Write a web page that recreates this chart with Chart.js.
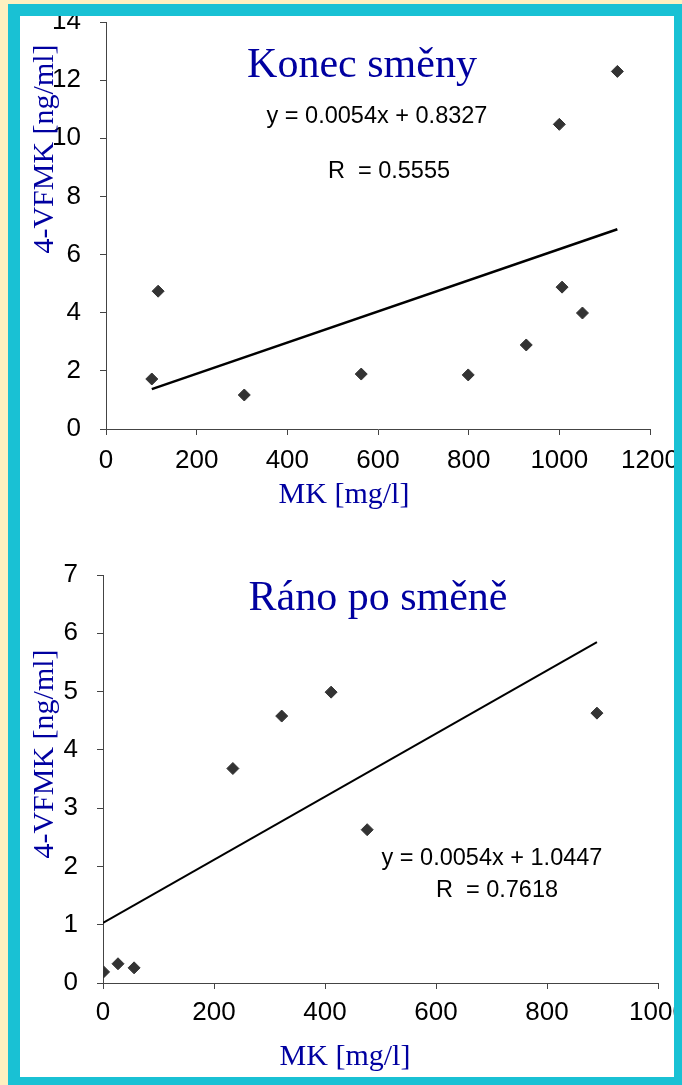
<!DOCTYPE html>
<html>
<head>
<meta charset="utf-8">
<script src="https://cdn.jsdelivr.net/npm/chart.js@4/dist/chart.umd.min.js"></script>
<style>
    html, body { margin: 0; padding: 0; width: 682px; height: 1085px; overflow: hidden; background: #fdf0c0; }
    #frame {
        position: absolute; left: 8px; top: 4px;
        width: 654px; height: 1061px;
        border: 12px solid #19c1d4;
        background: #fff; overflow: hidden;
    }
    canvas { position: absolute; left: 0; }
    #topChart { top: -30px; }
    #bottomChart { top: 530px; }
</style>
</head>
<body>
<div id="frame">
    <canvas id="topChart" width="700" height="560"></canvas>
    <canvas id="bottomChart" width="700" height="560"></canvas>
</div>
<script>
// Konec směny (end of shift)
const topMK = [101, 115, 305, 563, 799, 927, 1000, 1006, 1051, 1128];
const topVFMK = [1.72, 4.74, 1.17, 1.89, 1.86, 2.89, 10.48, 4.88, 3.99, 12.3];
const topTrendMK = [101, 1128];
const topTrendVFMK = [1.37, 6.87];
const topXTicks = [0, 200, 400, 600, 800, 1000, 1200];
const topYTicks = [0, 2, 4, 6, 8, 10, 12, 14];

// Ráno po směně (morning after shift)
const bottomMK = [1, 27, 56, 234, 322, 411, 476, 890];
const bottomVFMK = [0.19, 0.33, 0.26, 3.68, 4.58, 4.99, 2.63, 4.63];
const bottomTrendMK = [0, 890];
const bottomTrendVFMK = [1.03, 5.85];
const bottomXTicks = [0, 200, 400, 600, 800, 1000];
const bottomYTicks = [0, 1, 2, 3, 4, 5, 6, 7];

const SANS = "'Liberation Sans', Arial, sans-serif";
const SERIF = "'Liberation Serif', 'Times New Roman', serif";
const BLUE = '#0000a0';
const AXIS = '#444';

// draws titles, equations and axis titles at fixed spots
const textLayer = {
    id: 'textLayer',
    afterDraw(chart, args, opts) {
        const ctx = chart.ctx;
        (opts.items || []).forEach(it => {
            ctx.save();
            ctx.font = it.font;
            ctx.fillStyle = it.color || '#000';
            ctx.textAlign = 'center';
            ctx.textBaseline = 'alphabetic';
            ctx.translate(it.x, it.y);
            if (it.rotate) ctx.rotate(it.rotate);
            ctx.fillText(it.text, 0, 0);
            ctx.restore();
        });
    }
};

function toPoints(xs, ys) {
    return xs.map((x, i) => ({ x: x, y: ys[i] }));
}

function makeChart(id, cfg) {
    const tickFont = { family: SANS, size: 26 };
    return new Chart(document.getElementById(id), {
        type: 'scatter',
        data: {
            datasets: [{
                data: toPoints(cfg.mk, cfg.vfmk),
                pointStyle: 'rectRot',
                pointRadius: 6,
                pointHoverRadius: 6,
                backgroundColor: '#333',
                borderColor: '#333',
                borderWidth: 1
            }, {
                data: toPoints(cfg.trendMK, cfg.trendVFMK),
                showLine: true,
                pointRadius: 0,
                borderColor: '#000',
                borderWidth: cfg.lineWidth
            }]
        },
        options: {
            responsive: false,
            animation: false,
            layout: { padding: cfg.padding },
            plugins: {
                legend: { display: false },
                tooltip: { enabled: false },
                textLayer: { items: cfg.texts }
            },
            scales: {
                x: {
                    min: cfg.xTicks[0], max: cfg.xTicks[cfg.xTicks.length - 1],
                    afterBuildTicks: s => { s.ticks = cfg.xTicks.map(v => ({ value: v })); },
                    afterFit: s => { s.height = cfg.xHeight; s.paddingLeft = 0; s.paddingRight = 0; },
                    grid: { drawOnChartArea: false, tickLength: 6, color: AXIS },
                    border: { color: AXIS },
                    ticks: { font: tickFont, color: '#000', padding: cfg.xPad, maxRotation: 0, autoSkip: false,
                             callback: v => String(v) }
                },
                y: {
                    min: cfg.yTicks[0], max: cfg.yTicks[cfg.yTicks.length - 1],
                    afterBuildTicks: s => { s.ticks = cfg.yTicks.map(v => ({ value: v })); },
                    afterFit: s => { s.width = cfg.yWidth; s.paddingTop = 0; s.paddingBottom = 0; },
                    grid: { drawOnChartArea: false, tickLength: 6, color: AXIS },
                    border: { color: AXIS },
                    ticks: { font: tickFont, color: '#000', padding: 19, autoSkip: false,
                             callback: v => String(v) }
                }
            }
        },
        plugins: [textLayer]
    });
}

makeChart('topChart', {
    mk: topMK, vfmk: topVFMK, trendMK: topTrendMK, trendVFMK: topTrendVFMK,
    xTicks: topXTicks, yTicks: topYTicks,
    padding: { left: 0, top: 36, right: 70, bottom: 0 },
    xHeight: 117, yWidth: 86, xPad: 10, lineWidth: 2.5,
    texts: [
        { text: 'Konec směny', x: 342, y: 91, font: '42px ' + SERIF, color: BLUE },
        { text: 'y = 0.0054x + 0.8327', x: 357, y: 137, font: '23.5px ' + SANS },
        { text: 'R  = 0.5555', x: 369, y: 192, font: '23.5px ' + SANS },
        { text: 'MK [mg/l]', x: 324, y: 517, font: '30px ' + SERIF, color: BLUE },
        { text: '4-VFMK [ng/ml]', x: 33, y: 163, font: '30px ' + SERIF, color: BLUE, rotate: -Math.PI / 2 }
    ]
});

makeChart('bottomChart', {
    mk: bottomMK, vfmk: bottomVFMK, trendMK: bottomTrendMK, trendVFMK: bottomTrendVFMK,
    xTicks: bottomXTicks, yTicks: bottomYTicks,
    padding: { left: 0, top: 29, right: 62, bottom: 0 },
    xHeight: 123, yWidth: 83, xPad: 8, lineWidth: 2,
    texts: [
        { text: 'Ráno po směně', x: 358, y: 64, font: '42px ' + SERIF, color: BLUE },
        { text: 'y = 0.0054x + 1.0447', x: 472, y: 319, font: '23.5px ' + SANS },
        { text: 'R  = 0.7618', x: 477, y: 351, font: '23.5px ' + SANS },
        { text: 'MK [mg/l]', x: 325, y: 519, font: '30px ' + SERIF, color: BLUE },
        { text: '4-VFMK [ng/ml]', x: 33, y: 208, font: '30px ' + SERIF, color: BLUE, rotate: -Math.PI / 2 }
    ]
});
</script>
</body>
</html>
